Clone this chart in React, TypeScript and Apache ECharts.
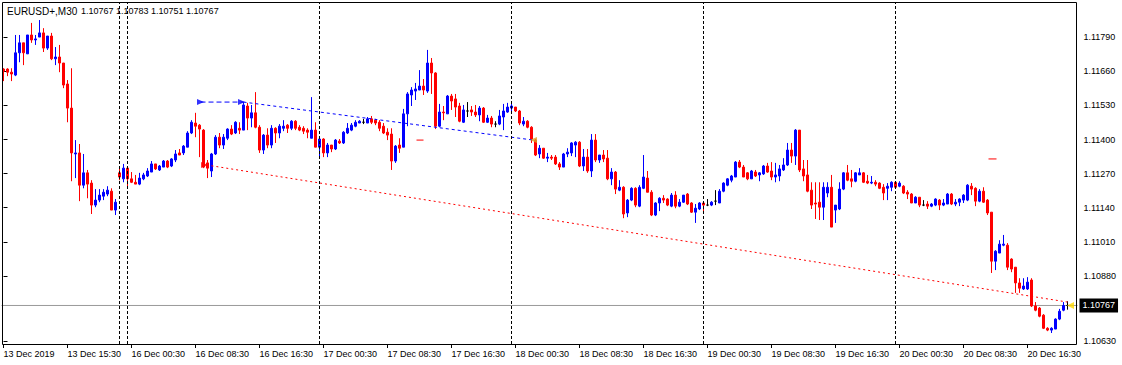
import React, { useEffect, useRef } from "react";
import * as echarts from "echarts";

// ---- labels ----
const xLabels = [
  "13 Dec 2019", "13 Dec 15:30", "16 Dec 00:30", "16 Dec 08:30", "16 Dec 16:30",
  "17 Dec 00:30", "17 Dec 08:30", "17 Dec 16:30", "18 Dec 00:30", "18 Dec 08:30",
  "18 Dec 16:30", "19 Dec 00:30", "19 Dec 08:30", "19 Dec 16:30", "20 Dec 00:30",
  "20 Dec 08:30", "20 Dec 16:30",
];
const labelStep = 16;
const slotCount = 269;
// 1.10750 sits under the bid price box in the original, so it is not listed
const yTicks = [1.1063, 1.1088, 1.1101, 1.1114, 1.1127, 1.114, 1.1153, 1.1166, 1.1179];
const yMin = 1.1062;
const yMax = 1.11921;
const separators = [29, 31, 79, 127, 175, 223];
const bid = 1.10767;
const headerSymbol = "EURUSD+,M30";
const headerOHLC = ["1.10767", "1.10783", "1.10751", "1.10767"];

// ---- candles (M30) ----
const open = [
  1.11669,1.11669,1.11657,1.11646,1.11731,1.11769,1.11727,1.11799,1.11780,1.11791,
  1.11807,1.11749,1.11795,1.11708,1.11715,1.11692,1.11612,1.11520,1.11345,1.11349,
  1.11226,1.11273,1.11234,1.11150,1.11169,1.11184,1.11192,1.11203,1.11131,1.11273,
  1.11250,1.11291,1.11250,1.11237,1.11230,1.11250,1.11261,1.11276,1.11307,1.11284,
  1.11295,1.11318,1.11299,1.11322,1.11349,1.11349,1.11371,1.11425,1.11463,1.11455,
  1.11436,1.11311,1.11280,1.11345,1.11409,1.11379,1.11405,1.11440,1.11425,1.11443,
  1.11436,1.11528,1.11482,1.11502,1.11447,1.11360,1.11417,1.11379,1.11443,1.11425,
  1.11443,1.11455,1.11443,1.11470,1.11447,1.11443,1.11436,1.11405,1.11436,1.11371,
  1.11402,1.11349,1.11379,1.11364,1.11394,1.11387,1.11425,1.11436,1.11451,1.11463,
  1.11466,1.11463,1.11479,1.11474,1.11466,1.11451,1.11428,1.11421,1.11318,1.11379,
  1.11371,1.11498,1.11570,1.11585,1.11589,1.11604,1.11585,1.11692,1.11654,1.11451,
  1.11505,1.11498,1.11566,1.11555,1.11528,1.11466,1.11509,1.11513,1.11505,1.11494,
  1.11520,1.11466,1.11482,1.11459,1.11459,1.11486,1.11505,1.11520,1.11524,1.11509,
  1.11459,1.11470,1.11447,1.11398,1.11345,1.11367,1.11329,1.11333,1.11333,1.11307,
  1.11295,1.11345,1.11349,1.11379,1.11390,1.11299,1.11333,1.11280,1.11398,1.11322,
  1.11341,1.11329,1.11250,1.11276,1.11207,1.11218,1.11120,1.11169,1.11214,1.11146,
  1.11214,1.11253,1.11199,1.11112,1.11158,1.11176,1.11173,1.11146,1.11188,1.11146,
  1.11161,1.11192,1.11158,1.11123,1.11135,1.11158,1.11150,1.11150,1.11165,1.11158,
  1.11203,1.11226,1.11245,1.11257,1.11314,1.11295,1.11273,1.11250,1.11276,1.11265,
  1.11269,1.11299,1.11280,1.11257,1.11261,1.11284,1.11303,1.11360,1.11337,1.11436,
  1.11288,1.11265,1.11207,1.11158,1.11161,1.11142,1.11196,1.11218,1.11131,1.11135,
  1.11211,1.11273,1.11250,1.11241,1.11265,1.11273,1.11241,1.11234,1.11237,1.11234,
  1.11218,1.11214,1.11218,1.11237,1.11222,1.11222,1.11199,1.11192,1.11158,1.11180,
  1.11150,1.11154,1.11146,1.11150,1.11169,1.11150,1.11154,1.11192,1.11154,1.11161,
  1.11169,1.11169,1.11222,1.11214,1.11165,1.11203,1.11169,1.11123,1.10936,1.10967,
  1.10997,1.10997,1.10944,1.10913,1.10853,1.10830,1.10830,1.10864,1.10765,1.10757,
  1.10730,1.10680,1.10673,1.10677,1.10715,1.10749,1.10767,
];
const high = [
  1.11672,1.11672,1.11672,1.11799,1.11799,1.11769,1.11799,1.11845,1.11799,1.11856,
  1.11825,1.11795,1.11807,1.11753,1.11761,1.11692,1.11627,1.11672,1.11398,1.11383,
  1.11345,1.11284,1.11245,1.11211,1.11211,1.11211,1.11222,1.11214,1.11173,1.11291,
  1.11307,1.11295,1.11276,1.11265,1.11273,1.11273,1.11291,1.11318,1.11307,1.11303,
  1.11322,1.11322,1.11329,1.11360,1.11364,1.11379,1.11432,1.11474,1.11502,1.11459,
  1.11440,1.11322,1.11349,1.11417,1.11425,1.11421,1.11443,1.11455,1.11470,1.11466,
  1.11543,1.11540,1.11532,1.11581,1.11455,1.11421,1.11443,1.11455,1.11447,1.11459,
  1.11474,1.11459,1.11474,1.11474,1.11455,1.11451,1.11443,1.11562,1.11466,1.11405,
  1.11405,1.11387,1.11379,1.11402,1.11402,1.11432,1.11463,1.11463,1.11474,1.11474,
  1.11479,1.11486,1.11490,1.11479,1.11474,1.11463,1.11443,1.11443,1.11379,1.11405,
  1.11517,1.11581,1.11600,1.11616,1.11665,1.11631,1.11742,1.11711,1.11657,1.11536,
  1.11528,1.11570,1.11574,1.11574,1.11540,1.11532,1.11543,1.11528,1.11532,1.11528,
  1.11524,1.11494,1.11490,1.11470,1.11513,1.11536,1.11540,1.11540,1.11524,1.11513,
  1.11486,1.11474,1.11451,1.11402,1.11379,1.11367,1.11349,1.11341,1.11341,1.11314,
  1.11349,1.11367,1.11390,1.11394,1.11394,1.11364,1.11364,1.11421,1.11421,1.11341,
  1.11360,1.11360,1.11291,1.11280,1.11245,1.11222,1.11173,1.11218,1.11218,1.11226,
  1.11341,1.11280,1.11207,1.11161,1.11180,1.11188,1.11176,1.11196,1.11203,1.11173,
  1.11188,1.11196,1.11161,1.11154,1.11161,1.11161,1.11173,1.11165,1.11207,1.11211,
  1.11237,1.11253,1.11265,1.11318,1.11322,1.11303,1.11276,1.11284,1.11284,1.11276,
  1.11303,1.11311,1.11314,1.11311,1.11303,1.11329,1.11387,1.11387,1.11440,1.11436,
  1.11322,1.11322,1.11237,1.11237,1.11237,1.11237,1.11237,1.11265,1.11150,1.11237,
  1.11276,1.11303,1.11284,1.11276,1.11291,1.11276,1.11265,1.11261,1.11245,1.11237,
  1.11230,1.11234,1.11241,1.11241,1.11241,1.11226,1.11207,1.11196,1.11184,1.11180,
  1.11169,1.11165,1.11158,1.11176,1.11173,1.11173,1.11196,1.11196,1.11173,1.11176,
  1.11192,1.11230,1.11234,1.11218,1.11211,1.11218,1.11173,1.11123,1.10978,1.11016,
  1.11036,1.11005,1.10947,1.10913,1.10871,1.10871,1.10875,1.10871,1.10780,1.10761,
  1.10734,1.10684,1.10684,1.10718,1.10754,1.10780,1.10783,
];
const low = [
  1.11623,1.11642,1.11623,1.11642,1.11695,1.11684,1.11727,1.11769,1.11761,1.11791,
  1.11734,1.11742,1.11703,1.11684,1.11657,1.11596,1.11466,1.11241,1.11253,1.11165,
  1.11214,1.11176,1.11116,1.11142,1.11161,1.11169,1.11184,1.11131,1.11112,1.11245,
  1.11237,1.11218,1.11234,1.11230,1.11226,1.11245,1.11257,1.11276,1.11284,1.11280,
  1.11295,1.11291,1.11295,1.11314,1.11341,1.11341,1.11371,1.11421,1.11409,1.11333,
  1.11291,1.11253,1.11257,1.11341,1.11367,1.11364,1.11398,1.11417,1.11421,1.11421,
  1.11436,1.11436,1.11447,1.11443,1.11349,1.11345,1.11367,1.11367,1.11387,1.11405,
  1.11432,1.11425,1.11436,1.11436,1.11432,1.11421,1.11405,1.11405,1.11371,1.11333,
  1.11333,1.11333,1.11352,1.11360,1.11383,1.11383,1.11421,1.11432,1.11447,1.11463,
  1.11459,1.11463,1.11459,1.11455,1.11432,1.11421,1.11398,1.11284,1.11311,1.11349,
  1.11371,1.11451,1.11528,1.11551,1.11589,1.11570,1.11578,1.11574,1.11440,1.11447,
  1.11474,1.11498,1.11513,1.11486,1.11466,1.11463,1.11486,1.11490,1.11486,1.11470,
  1.11463,1.11463,1.11447,1.11447,1.11455,1.11436,1.11502,1.11509,1.11505,1.11455,
  1.11451,1.11443,1.11387,1.11337,1.11329,1.11326,1.11314,1.11322,1.11303,1.11284,
  1.11295,1.11333,1.11337,1.11333,1.11295,1.11280,1.11273,1.11257,1.11314,1.11311,
  1.11314,1.11245,1.11226,1.11192,1.11203,1.11100,1.11104,1.11165,1.11142,1.11142,
  1.11211,1.11199,1.11108,1.11108,1.11127,1.11158,1.11146,1.11142,1.11138,1.11142,
  1.11158,1.11150,1.11120,1.11082,1.11131,1.11120,1.11146,1.11146,1.11150,1.11158,
  1.11199,1.11222,1.11237,1.11257,1.11291,1.11257,1.11245,1.11250,1.11257,1.11241,
  1.11265,1.11273,1.11245,1.11237,1.11241,1.11280,1.11299,1.11311,1.11303,1.11276,
  1.11241,1.11199,1.11135,1.11097,1.11093,1.11093,1.11180,1.11066,1.11082,1.11131,
  1.11207,1.11241,1.11218,1.11237,1.11265,1.11234,1.11230,1.11230,1.11222,1.11211,
  1.11169,1.11169,1.11203,1.11214,1.11218,1.11192,1.11173,1.11158,1.11158,1.11142,
  1.11146,1.11135,1.11142,1.11146,1.11131,1.11146,1.11154,1.11150,1.11146,1.11146,
  1.11158,1.11165,1.11188,1.11146,1.11161,1.11158,1.11112,1.10891,1.10902,1.10967,
  1.10993,1.10902,1.10894,1.10815,1.10815,1.10826,1.10826,1.10761,1.10745,1.10722,
  1.10677,1.10669,1.10662,1.10677,1.10711,1.10745,1.10751,
];
const close = [
  1.11661,1.11657,1.11650,1.11731,1.11769,1.11731,1.11799,1.11780,1.11784,1.11807,
  1.11749,1.11795,1.11708,1.11715,1.11692,1.11608,1.11520,1.11349,1.11349,1.11226,
  1.11273,1.11230,1.11150,1.11169,1.11188,1.11199,1.11207,1.11131,1.11161,1.11257,
  1.11291,1.11250,1.11237,1.11230,1.11253,1.11265,1.11280,1.11307,1.11288,1.11299,
  1.11318,1.11295,1.11326,1.11345,1.11341,1.11375,1.11425,1.11466,1.11451,1.11440,
  1.11295,1.11291,1.11345,1.11409,1.11379,1.11409,1.11440,1.11421,1.11466,1.11436,
  1.11532,1.11482,1.11502,1.11447,1.11360,1.11417,1.11379,1.11443,1.11425,1.11451,
  1.11451,1.11443,1.11470,1.11443,1.11436,1.11432,1.11428,1.11436,1.11371,1.11402,
  1.11349,1.11379,1.11364,1.11398,1.11387,1.11428,1.11443,1.11455,1.11466,1.11470,
  1.11466,1.11479,1.11466,1.11463,1.11443,1.11425,1.11417,1.11318,1.11375,1.11367,
  1.11498,1.11574,1.11589,1.11593,1.11604,1.11589,1.11692,1.11654,1.11451,1.11505,
  1.11502,1.11566,1.11547,1.11524,1.11470,1.11513,1.11509,1.11505,1.11494,1.11520,
  1.11466,1.11482,1.11459,1.11459,1.11490,1.11509,1.11524,1.11528,1.11509,1.11463,
  1.11470,1.11447,1.11402,1.11341,1.11367,1.11329,1.11333,1.11329,1.11307,1.11295,
  1.11345,1.11352,1.11387,1.11390,1.11299,1.11333,1.11280,1.11398,1.11322,1.11341,
  1.11326,1.11250,1.11276,1.11211,1.11218,1.11116,1.11169,1.11214,1.11150,1.11218,
  1.11257,1.11199,1.11112,1.11158,1.11176,1.11169,1.11150,1.11188,1.11146,1.11161,
  1.11188,1.11154,1.11123,1.11138,1.11158,1.11150,1.11150,1.11161,1.11165,1.11203,
  1.11234,1.11250,1.11261,1.11314,1.11295,1.11257,1.11250,1.11280,1.11261,1.11273,
  1.11299,1.11276,1.11257,1.11265,1.11288,1.11303,1.11360,1.11337,1.11436,1.11284,
  1.11261,1.11203,1.11150,1.11154,1.11142,1.11218,1.11218,1.11066,1.11150,1.11211,
  1.11273,1.11245,1.11241,1.11273,1.11273,1.11237,1.11234,1.11237,1.11230,1.11214,
  1.11196,1.11222,1.11237,1.11218,1.11234,1.11196,1.11192,1.11158,1.11180,1.11150,
  1.11150,1.11146,1.11154,1.11173,1.11150,1.11158,1.11192,1.11154,1.11161,1.11173,
  1.11188,1.11226,1.11211,1.11165,1.11203,1.11161,1.11120,1.10936,1.10974,1.11001,
  1.11001,1.10913,1.10906,1.10853,1.10833,1.10841,1.10856,1.10765,1.10749,1.10726,
  1.10680,1.10673,1.10680,1.10715,1.10745,1.10767,1.10767,
];

// ---- chart objects (bar index, price) ----
const buyLevel: number[][] = [[49.25, 1.11543], [60, 1.11543]];
const buyTrend: number[][] = [[60, 1.11543], [132.5, 1.11398]];
const sellTrend: number[][] = [[50.75, 1.11303], [266, 1.1078]];
const stopMarkA: number[][] = [[103.25, 1.11398], [105, 1.11398]];
const stopMarkB: number[][] = [[246.25, 1.11326], [248.25, 1.11326]];
const buyArrows: number[][] = [[49.25, 1.11543], [59.5, 1.11543]];
const sellArrow: number[][] = [[50.25, 1.11303]];
const closeArrow: number[][] = [[132.5, 1.11398]];
const bidArrow: number[][] = [[266.75, 1.10767]];
const bidLine: number[][] = [[-0.5, bid], [slotCount - 0.5, bid]];

const FONT = '"Liberation Sans", Arial, sans-serif';
const BLUE = "#0000ff";
const RED = "#ff0000";

export default function App() {
  const ref = useRef<HTMLDivElement>(null);
  useEffect(() => {
    if (!ref.current) return;
    const chart = echarts.init(ref.current, null, { renderer: "svg" });
    const slots = Array.from({ length: slotCount }, (_, i) => String(i));
    const candles = open.map((o, i) => [o, close[i], low[i], high[i]]);
    const showLabel = (i: number) => i % labelStep === 0 && i / labelStep < xLabels.length;

    const lineSeries = (data: number[][], color: string, type: any, z = 4) => ({
      type: "line",
      xAxisIndex: 1,
      yAxisIndex: 0,
      data,
      symbol: "none",
      silent: true,
      z,
      lineStyle: { color, width: 1, type },
    });
    const markSeries = (data: number[][], color: string, rotate: number, size: number[]) => ({
      type: "scatter",
      xAxisIndex: 1,
      yAxisIndex: 0,
      data,
      symbol: "triangle",
      symbolSize: size,
      symbolRotate: rotate,
      silent: true,
      z: 6,
      itemStyle: { color },
    });

    chart.setOption({
      animation: false,
      backgroundColor: "#ffffff",
      grid: { left: 1.5, top: 3, width: 1076, height: 341, containLabel: false },
      xAxis: [
        {
          type: "category",
          data: slots,
          boundaryGap: true,
          axisLine: { show: false },
          axisTick: {
            show: true,
            interval: (i: number) => showLabel(i),
            alignWithLabel: true,
            length: 4,
            lineStyle: { color: "#000" },
          },
          axisLabel: {
            interval: (i: number) => showLabel(i),
            formatter: (_v: string, i: number) => xLabels[i / labelStep] ?? "",
            align: "left",
            margin: 5,
            color: "#000",
            fontSize: 9,
            fontFamily: FONT,
          },
          splitLine: { show: false },
        },
        {
          type: "value",
          min: -0.5,
          max: slotCount - 0.5,
          show: false,
        },
      ],
      yAxis: {
        type: "value",
        position: "right",
        min: yMin,
        max: yMax,
        axisLine: { show: false },
        splitLine: { show: false },
        axisTick: {
          show: true,
          length: 4,
          customValues: yTicks,
          lineStyle: { color: "#000" },
        },
        axisLabel: {
          customValues: yTicks,
          formatter: (v: number) => v.toFixed(5),
          margin: 6,
          color: "#000",
          fontSize: 9,
          fontFamily: FONT,
        },
      },
      graphic: [
        {
          type: "rect",
          shape: { x: 2.5, y: 2.5, width: 1074, height: 342 },
          style: { fill: "none", stroke: "#000", lineWidth: 1 },
          silent: true,
          z: 50,
        },
        {
          type: "text",
          x: 7,
          y: 11,
          style: { text: headerSymbol, fill: "#000", font: `10px ${FONT}`, textVerticalAlign: "middle" },
          z: 60,
        },
        {
          type: "text",
          x: 81,
          y: 11,
          style: { text: headerOHLC.join(" "), fill: "#000", font: `9px ${FONT}`, textVerticalAlign: "middle" },
          z: 60,
        },
      ],
      series: [
        {
          type: "line",
          xAxisIndex: 1,
          yAxisIndex: 0,
          data: bidLine,
          symbol: "none",
          silent: true,
          z: 2,
          clip: false,
          lineStyle: { color: "#9a9a9a", width: 1 },
          endLabel: {
            show: true,
            distance: 2,
            formatter: () => bid.toFixed(5),
            backgroundColor: "#000",
            color: "#fff",
            padding: [3, 3, 2, 3],
            fontSize: 9,
            fontFamily: FONT,
          },
        },
        {
          type: "candlestick",
          xAxisIndex: 0,
          yAxisIndex: 0,
          data: candles,
          barWidth: 2,
          z: 3,
          itemStyle: {
            color: BLUE,
            color0: RED,
            borderColor: BLUE,
            borderColor0: RED,
            borderColorDoji: "#000",
            borderWidth: 1,
          },
          markLine: {
            silent: true,
            symbol: ["none", "none"],
            animation: false,
            data: separators.map((s) => ({
              xAxis: s,
              lineStyle: { color: "#000", width: 1, type: [3, 2] },
              label: { show: false },
            })),
          },
        },
        lineSeries(buyLevel, BLUE, [5, 3]),
        lineSeries(buyTrend, BLUE, [3, 3]),
        lineSeries(sellTrend, RED, [2, 3]),
        lineSeries(stopMarkA, RED, "solid"),
        lineSeries(stopMarkB, RED, "solid"),
        markSeries(buyArrows, BLUE, -90, [6, 7]),
        markSeries(sellArrow, RED, -90, [6, 7]),
        markSeries(closeArrow, "#e0a020", 90, [6, 7]),
        markSeries(bidArrow, "#ffd800", 90, [7, 7]),
      ],
    });
    return () => chart.dispose();
  }, []);
  return (
    <div
      ref={ref}
      style={{ position: "fixed", left: 0, top: 0, width: 1122, height: 365, background: "#fff" }}
    />
  );
}
